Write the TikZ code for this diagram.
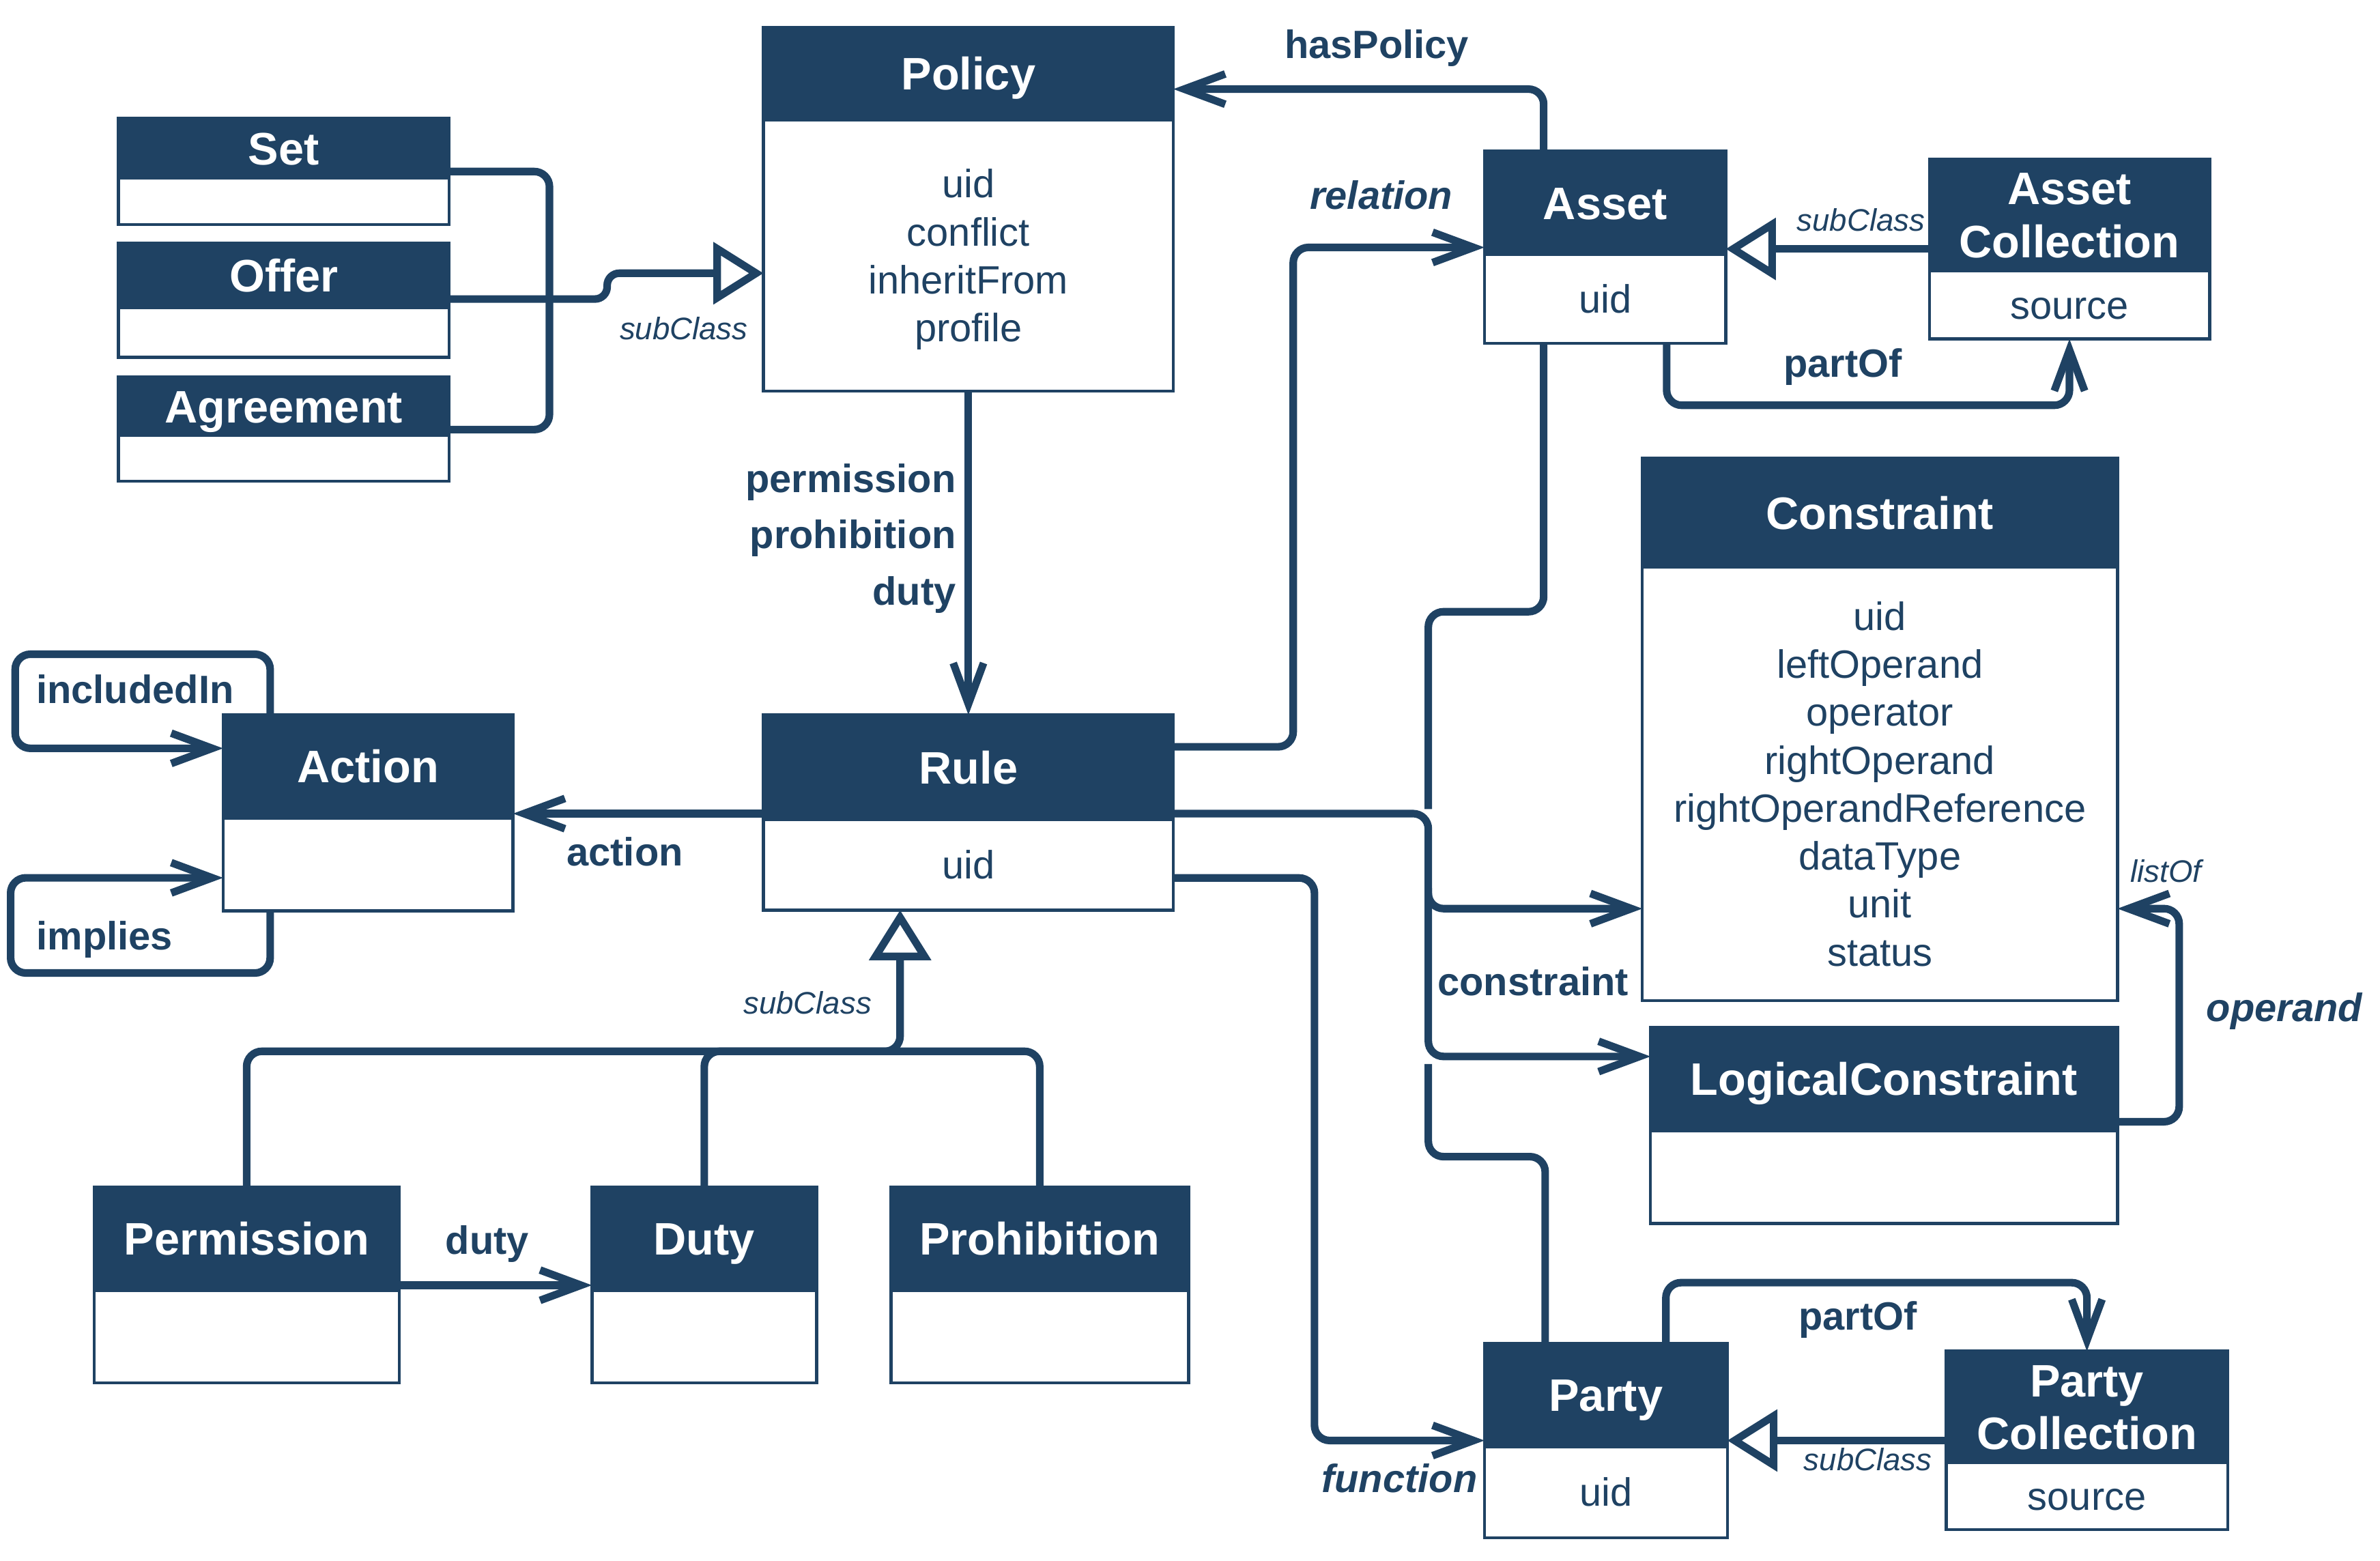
\documentclass[tikz,border=0pt]{standalone}
\usepackage{fontspec}
\setmainfont{Liberation Sans}
\usetikzlibrary{arrows.meta,positioning}
\definecolor{odrl}{RGB}{31,66,99}

\begin{document}
\begin{tikzpicture}[x=1pt, y=-1pt,
    head/.style={fill=odrl, draw=odrl, line width=2pt, text=white, inner sep=0pt, outer sep=0pt,
      align=center, text height=21.5pt, text depth=0pt, font=\fontsize{30}{35}\selectfont\bfseries},
    body/.style={fill=white, draw=odrl, line width=2pt, text=odrl, inner sep=0pt, outer sep=0pt,
      align=center, text height=18.7pt, text depth=0pt, font=\fontsize{26}{31.6}\selectfont},
    conn/.style={draw=odrl, line width=5pt, rounded corners=10pt},
    arr/.style={conn, -{Straight Barb[length=27pt, width=20pt]}},
    sub/.style={conn, -{Triangle[length=33pt, width=40pt, fill=white]}},
    lbl/.style={text=odrl, inner sep=0pt, anchor=base, font=\fontsize{26}{37}\selectfont\bfseries},
    ilbl/.style={lbl, font=\fontsize{26}{37}\selectfont\bfseries\itshape},
    slbl/.style={lbl, font=\fontsize{20.5}{24}\selectfont\itshape}]

    \useasboundingbox (0,0) rectangle (1568,1028);

    \node[head, minimum width=218pt, minimum height=39.3pt] (set) at (187,97.65) {Set};
    \node[body, minimum width=218pt, minimum height=30.7pt, below=0pt of set] (set-b) {};
    \node[head, minimum width=218pt, minimum height=42.3pt] (offer) at (187,181.35) {Offer};
    \node[body, minimum width=218pt, minimum height=32.9pt, below=0pt of offer] (offer-b) {};
    \node[head, minimum width=218pt, minimum height=38.6pt] (agreement) at (187,267.6) {Agreement};
    \node[body, minimum width=218pt, minimum height=30.1pt, below=0pt of agreement] (agreement-b) {};

    \node[head, minimum width=270pt, minimum height=61pt] (policy) at (638,48.5) {Policy};
    \node[body, minimum width=270pt, minimum height=178.7pt, text height=113.5pt, below=0pt of policy] (policy-b) {uid\\conflict\\inheritFrom\\profile};

    \node[head, minimum width=159pt, minimum height=68pt] (asset) at (1057.5,133.7) {Asset};
    \node[body, minimum width=159pt, minimum height=58.6pt, below=0pt of asset] (asset-b) {uid};
    \node[head, minimum width=184.6pt, minimum height=73.4pt, text height=56.5pt] (assetcoll) at (1363.4,141.6) {Asset\\Collection};
    \node[body, minimum width=184.6pt, minimum height=45pt, below=0pt of assetcoll] (assetcoll-b) {source};

    \node[head, minimum width=313pt, minimum height=71.5pt] (constraint) at (1238.5,337.75) {Constraint};
    \node[body, minimum width=313pt, minimum height=285.8pt, text height=239.9pt, below=0pt of constraint] (constraint-b) {uid\\leftOperand\\operator\\rightOperand\\rightOperandReference\\dataType\\unit\\status};
    \node[head, minimum width=307.6pt, minimum height=68.1pt] (logical) at (1241.2,710.85) {LogicalConstraint};
    \node[body, minimum width=307.6pt, minimum height=61.1pt, below=0pt of logical] (logical-b) {};

    \node[head, minimum width=191pt, minimum height=67.9pt] (action) at (242.5,504.95) {Action};
    \node[body, minimum width=191pt, minimum height=61.1pt, below=0pt of action] (action-b) {};
    \node[head, minimum width=270pt, minimum height=69pt] (rule) at (638,505.5) {Rule};
    \node[body, minimum width=270pt, minimum height=59.6pt, below=0pt of rule] (rule-b) {uid};

    \node[head, minimum width=201pt, minimum height=68.3pt] (permission) at (162.5,816.15) {Permission};
    \node[body, minimum width=201pt, minimum height=60.7pt, below=0pt of permission] (permission-b) {};
    \node[head, minimum width=148pt, minimum height=68.3pt] (duty) at (464,816.15) {Duty};
    \node[body, minimum width=148pt, minimum height=60.7pt, below=0pt of duty] (duty-b) {};
    \node[head, minimum width=196pt, minimum height=68.3pt] (prohibition) at (685,816.15) {Prohibition};
    \node[body, minimum width=196pt, minimum height=60.7pt, below=0pt of prohibition] (prohibition-b) {};

    \node[head, minimum width=160pt, minimum height=68pt] (party) at (1058,919) {Party};
    \node[body, minimum width=160pt, minimum height=60pt, below=0pt of party] (party-b) {uid};
    \node[head, minimum width=185.4pt, minimum height=73.2pt, text height=56.5pt] (partycoll) at (1374.9,926.8) {Party\\Collection};
    \node[body, minimum width=185.4pt, minimum height=44.4pt, below=0pt of partycoll] (partycoll-b) {source};

    \coordinate (ctop) at (941,533);
    \coordinate (cjoin) at (941,585);
    \coordinate (cbot) at (941,701);

    \draw[conn] (set.east |- 0,113) -- (362,113) -- (362,283) -- (agreement.east |- 0,283);
    \draw[sub, rounded corners=8pt] (offer.east |- 0,197) -- (400,197) -- (400,180) -- (policy-b.west |- 0,180);
    \draw[arr] (asset.north -| 1017,0) |- (policy.east |- 0,58.7);
    \draw[arr] (policy-b.south) -- (rule.north);
    \draw[arr] (rule.east |- 0,492) -- (852,492) -- (852,163) -- (asset.west |- 0,163);
    \draw[sub] (assetcoll.west |- 0,164) -- (asset.east |- 0,164);
    \draw[arr] (asset-b.south -| 1098,0) |- (assetcoll-b.south |- 0,267) -- (assetcoll-b.south);
    \draw[conn] (asset-b.south -| 1017,0) |- (941,403) -- (ctop);
    \draw[arr] (rule.east |- 0,536) -- (941,536) -- (941,598.6) -- (constraint-b.west |- 0,598.6);
    \draw[arr] (cjoin) -- (941,696) -- (logical.west |- 0,696);
    \draw[conn] (party.north -| 1018,0) |- (941,762) -- (cbot);
    \draw[arr] (rule-b.east |- 0,578.4) -- (866,578.4) -- (866,949) -- (party.west |- 0,949);
    \draw[arr] (party.north -| 1097.5,0) |- (partycoll.north |- 0,845) -- (partycoll.north);
    \draw[sub] (partycoll.west |- 0,949) -- (party.east |- 0,949);
    \draw[arr] (logical.east |- 0,739) -- (1435.7,739) -- (1435.7,598.6) -- (constraint-b.east |- 0,598.6);
    \draw[arr] (rule.west |- 0,536) -- (action.east |- 0,536);
    \draw[arr] (action.north -| 178,0) |- (10,431) |- (action.west |- 0,493);
    \draw[arr] (action-b.south -| 178,0) |- (7,641) |- (action-b.west |- 0,578.3);
    \draw[sub] (permission.north) |- (593,692.6) -- (rule-b.south -| 593,0);
    \draw[conn] (prohibition.north) |- (duty.north |- 0,692.6) -- (duty.north);
    \draw[arr] (permission.east |- 0,846.7) -- (duty.west |- 0,846.7);

    \node[slbl] (l-sub1) at (450.5,223.6) {subClass};
    \node[lbl] (l-haspolicy) at (907,38.3) {hasPolicy};
    \node[ilbl] (l-relation) at (910,138) {relation};
    \node[lbl, anchor=base east, align=right] (l-rules) at (630,398.5) {permission\\prohibition\\duty};
    \node[slbl] (l-sub2) at (1226,152.4) {subClass};
    \node[lbl] (l-partof1) at (1214,248.4) {partOf};
    \node[lbl] (l-constraint) at (1010,656) {constraint};
    \node[ilbl] (l-function) at (922,983.4) {function};
    \node[lbl] (l-partof2) at (1224,876) {partOf};
    \node[slbl] (l-sub3) at (1230.6,968.6) {subClass};
    \node[slbl] (l-listof) at (1427,581) {listOf};
    \node[ilbl] (l-operand) at (1505,673) {operand};
    \node[lbl] (l-includedin) at (89,463.4) {includedIn};
    \node[lbl] (l-implies) at (69,625.5) {implies};
    \node[lbl] (l-action) at (411.7,570.3) {action};
    \node[slbl] (l-sub4) at (532,668) {subClass};
    \node[lbl] (l-duty) at (321,826.4) {duty};

\end{tikzpicture}
\end{document}
